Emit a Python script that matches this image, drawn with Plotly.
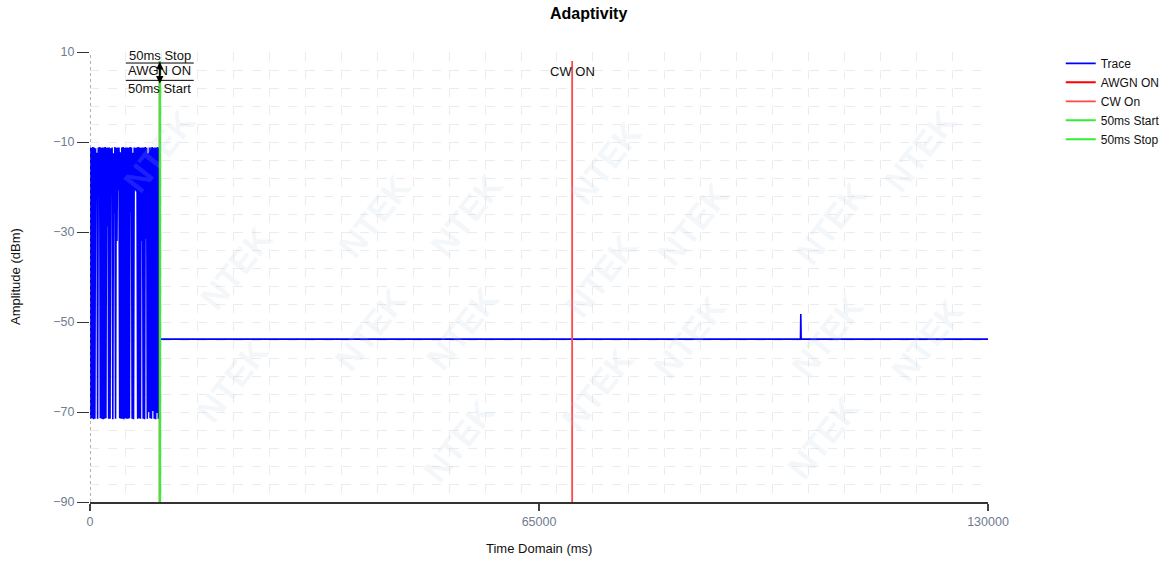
import numpy as np
import plotly.graph_objects as go

# ---------------- data ----------------
# burst section (0 .. 10100 ms): alternating peak / trough samples
burst_peaks = [-11.2, -11.3, -11.1, -11.2, -11.4, -12.4, -11.2, -11.1, -11.3, -11.2,
               -11.2, -11.1, -11.3, -11.2, -11.2, -11.4, -11.2, -12.5, -11.1, -11.3,
               -11.2, -11.2, -12.3, -11.2, -11.1, -11.3, -11.2, -11.2, -11.3, -11.1,
               -11.2, -12.4, -11.2, -11.3, -11.2, -11.1, -11.2, -11.3, -11.2, -11.2,
               -11.1, -11.3, -12.5, -11.2, -11.2, -11.1, -11.3, -11.2, -11.2, -11.1,
               -11.2]
burst_troughs = [-71.5, -71.4, -71.6, -71.5, -22.7, -71.5, -20.7, -71.4, -71.5, -71.6,
                 -71.5, -71.4, -28.7, -71.5, -71.5, -18.0, -71.6, -25.8, -71.5, -32.0,
                 -20.7, -71.4, -71.5, -71.5, -71.6, -71.4, -71.5, -71.5, -71.4, -25.5,
                 -71.5, -71.6, -20.7, -21.0, -71.5, -71.4, -71.5, -32.0, -71.5, -71.6,
                 -31.5, -71.5, -70.0, -71.4, -71.5, -69.8, -71.5, -71.6, -70.2, -71.5,
                 -71.5]
burst_step_ms = 100
# flat section after the burst, with one small spike
flat_times = [10100, 102850, 102900, 102950, 130000]
flat_levels = [-53.8, -53.8, -48.2, -53.8, -53.8]

# marker lines (time in ms)
awgn_on_time = 10100
cw_on_time = 69800
start_time = 10100
stop_time = 10150
marker_bottom = -90
marker_top = 8

x_ticks = [0, 65000, 130000]
x_tick_labels = ["0", "65000", "130000"]
y_ticks = [-90, -70, -50, -30, -10, 10]

# ---------------- build trace ----------------
burst_y = []
for p, t in zip(burst_peaks, burst_troughs):
    burst_y += [p, t]
burst_x = [i * burst_step_ms for i in range(len(burst_y))]
trace_x = burst_x + flat_times
trace_y = burst_y + flat_levels

FONT = "Liberation Sans, Arial, sans-serif"
fig = go.Figure()
fig.add_trace(go.Scatter(x=trace_x, y=trace_y, mode="lines", name="Trace",
                         line=dict(color="#0000ff", width=1.6)))
fig.add_trace(go.Scatter(x=[awgn_on_time, awgn_on_time], y=[marker_bottom, marker_top],
                         mode="lines", name="AWGN ON", line=dict(color="#ff0000", width=2)))
fig.add_trace(go.Scatter(x=[cw_on_time, cw_on_time], y=[marker_bottom, marker_top],
                         mode="lines", name="CW On", line=dict(color="#ff4848", width=1.8)))
fig.add_trace(go.Scatter(x=[start_time, start_time], y=[marker_bottom, marker_top],
                         mode="lines", name="50ms Start", line=dict(color="#33ee33", width=2)))
fig.add_trace(go.Scatter(x=[stop_time, stop_time], y=[marker_bottom, marker_top],
                         mode="lines", name="50ms Stop", line=dict(color="#33ee33", width=2)))

txt = dict(family=FONT, size=13, color="#111111")
annotations = [
    dict(x=stop_time, y=9.3, xref="x", yref="y", text="50ms Stop", showarrow=False, font=txt),
    dict(x=awgn_on_time, y=5.8, xref="x", yref="y", text="AWGN ON", showarrow=False, font=txt),
    dict(x=start_time, y=2.0, xref="x", yref="y", text="50ms Start", showarrow=False, font=txt),
    dict(x=cw_on_time, y=5.6, xref="x", yref="y", text="CW ON", showarrow=False, font=txt),
    dict(x=start_time, y=7.8, xref="x", yref="y", text="", showarrow=True, ax=0, ay=23,
         arrowhead=2, startarrowhead=2, arrowside="end+start", arrowsize=1, arrowwidth=1.5,
         arrowcolor="#000000"),
    dict(x=0.5, y=-0.104, xref="paper", yref="paper", text="Time Domain (ms)", showarrow=False,
         xanchor="center", yanchor="middle",
         font=dict(family=FONT, size=13, color="#111111")),
    dict(x=-0.0835, y=0.5, xref="paper", yref="paper", text="Amplitude (dBm)", showarrow=False,
         xanchor="center", yanchor="middle",
         textangle=-90, font=dict(family=FONT, size=13, color="#111111")),
]

# faint background watermark
wm_positions = [(490, 140), (670, 75), (310, 205), (130, 270), (845, 215), (665, 280),
                (485, 345), (305, 410), (125, 475), (1025, 150), (1020, 355), (840, 420),
                (660, 485), (1150, 360), (1140, 60), (30, 60), (480, 550), (1015, 545)]
for (px, py) in wm_positions:
    annotations.append(dict(x=px / 1168, y=1 - py / 562, xref="paper", yref="paper",
                            text="<b>NTEK</b>", showarrow=False, textangle=-52,
                            font=dict(family=FONT, size=34, color="rgba(185,205,228,0.17)")))

shapes = [
    dict(type="line", xref="x", yref="y", xsizemode="pixel", xanchor=start_time,
         x0=-34, x1=34, y0=7.55, y1=7.55, line=dict(color="#000000", width=1)),
    dict(type="line", xref="x", yref="y", xsizemode="pixel", xanchor=start_time,
         x0=-34, x1=34, y0=3.7, y1=3.7, line=dict(color="#000000", width=1)),
    dict(type="line", xref="x", yref="y", x0=0, x1=0, y0=-90, y1=10,
         line=dict(color="#666666", width=1, dash="dot")),
]

tickfont = dict(family=FONT, size=12.5, color="#707c90")
fig.update_layout(
    width=1168, height=562,
    margin=dict(l=90, r=180, t=52, b=60, autoexpand=False),
    paper_bgcolor="white", plot_bgcolor="white",
    title=dict(text="<b>Adaptivity</b>", x=0.504, xref="container", xanchor="center",
               y=1 - 13 / 562, yanchor="middle",
               font=dict(family="Liberation Sans Narrow, Arial Narrow, sans-serif", size=16,
                         color="#000000")),
    legend=dict(x=1.081, y=1.007, xanchor="left", yanchor="top", bgcolor="rgba(0,0,0,0)",
                font=dict(family=FONT, size=12, color="#111111"), tracegroupgap=0),
    showlegend=True,
    annotations=annotations,
    shapes=shapes,
    xaxis=dict(range=[0, 130000], tickvals=x_ticks, ticktext=x_tick_labels, ticks="outside",
               ticklen=7, tickcolor="#444444", tickwidth=2, showline=True, linecolor="#333333",
               linewidth=2, showgrid=False, zeroline=False, tickfont=tickfont, automargin=False,
               minor=dict(tick0=0, dtick=5200, showgrid=True, gridcolor="#ececec",
                          griddash="dash", gridwidth=1, ticks="")),
    yaxis=dict(range=[-90, 10], tickvals=y_ticks, ticks="outside", ticklen=12,
               tickcolor="#333333", tickwidth=1, showline=False, showgrid=False,
               zeroline=False, tickfont=tickfont, automargin=False,
               minor=dict(tick0=-90, dtick=4, showgrid=True, gridcolor="#ececec",
                          griddash="dash", gridwidth=1, ticks="")),
)

fig.write_html("out.html", config={"displayModeBar": False},
               post_script="document.body.style.margin='0';")
